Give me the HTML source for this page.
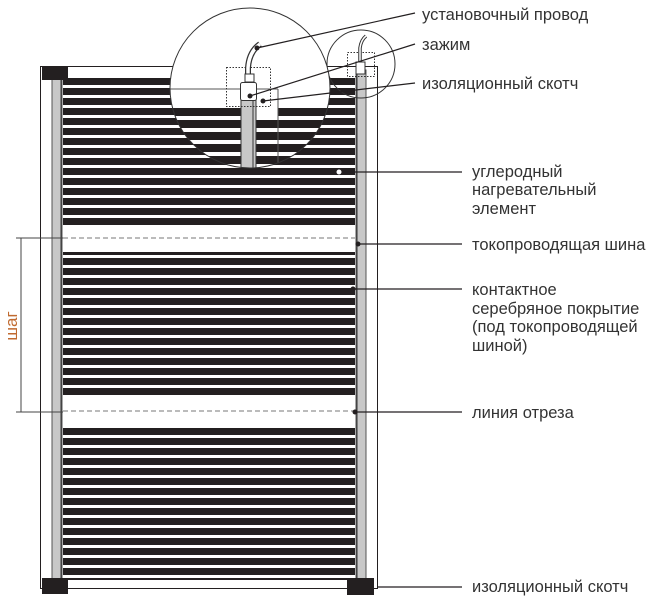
<!DOCTYPE html>
<html><head><meta charset="utf-8"><style>
html,body{margin:0;padding:0;background:#fff;}
svg{display:block;}
text{font-family:"Liberation Sans",sans-serif;font-size:16.5px;fill:#333;}
</style></head><body>
<svg width="657" height="605" viewBox="0 0 657 605" xmlns="http://www.w3.org/2000/svg">
<defs>
<pattern id="st" x="0" y="78" width="10" height="10" patternUnits="userSpaceOnUse">
<rect x="0" y="0" width="10" height="7" fill="#231f20"/>
</pattern>
<pattern id="st2" x="0" y="108" width="12" height="12" patternUnits="userSpaceOnUse">
<rect x="0" y="0" width="12" height="8" fill="#231f20"/>
</pattern>
<clipPath id="cc"><circle cx="250" cy="88" r="80"/></clipPath>
</defs>
<rect x="40.5" y="66.5" width="337" height="522" fill="none" stroke="#231f20" stroke-width="1"/>
<rect x="63" y="78" width="292" height="148" fill="url(#st)"/>
<rect x="63" y="252" width="292" height="146" fill="url(#st)"/>
<rect x="63" y="425" width="292" height="155" fill="url(#st)"/>
<rect x="52" y="70" width="10" height="515" fill="#c8c8c8" stroke="#555" stroke-width="1"/>
<rect x="356" y="70" width="10" height="515" fill="#c8c8c8" stroke="#555" stroke-width="1"/>
<line x1="61" y1="70" x2="61" y2="585" stroke="#333"/>
<line x1="357" y1="70" x2="357" y2="585" stroke="#333"/>
<line x1="63" y1="238" x2="355" y2="238" stroke="#777" stroke-dasharray="5,3"/>
<line x1="63" y1="411" x2="355" y2="411" stroke="#777" stroke-dasharray="5,3"/>
<rect x="42" y="66" width="26" height="14" fill="#231f20"/>
<rect x="42" y="578" width="26" height="16" fill="#231f20"/>
<rect x="347" y="578" width="27" height="17" fill="#231f20"/>
<line x1="21" y1="238" x2="21" y2="412" stroke="#444"/>
<line x1="16" y1="238" x2="63" y2="238" stroke="#444"/>
<line x1="16" y1="412" x2="63" y2="412" stroke="#444"/>
<text transform="translate(17,326) rotate(-90)" text-anchor="middle" style="fill:#c06a30;font-size:17px">шаг</text>
<circle cx="361" cy="64" r="34" fill="none" stroke="#333"/>
<rect x="347.5" y="52.5" width="27" height="24" fill="none" stroke="#333" stroke-dasharray="1.5,1.5"/>
<path d="M360 62 L360 48 Q361 40 366 36" fill="none" stroke="#333" stroke-width="3.5"/>
<path d="M360 62 L360 48 Q361 40 366 36" fill="none" stroke="#fff" stroke-width="1.5"/>
<rect x="356" y="62" width="9" height="12" fill="#fff" stroke="#333"/>
<circle cx="250" cy="88" r="80" fill="#fff"/>
<g clip-path="url(#cc)">
<rect x="160" y="108" width="200" height="70" fill="url(#st2)"/>
<rect x="256" y="89" width="22" height="30" fill="#fff"/>
<rect x="160" y="89" width="96" height="18" fill="#fff"/>
<line x1="160" y1="89" x2="278" y2="89" stroke="#555"/>
<line x1="278" y1="89" x2="278" y2="170" stroke="#555"/>
<rect x="241" y="100" width="15" height="70" fill="#c8c8c8" stroke="#333"/>
<line x1="253" y1="100" x2="253" y2="170" stroke="#333"/>
</g>
<circle cx="250" cy="88" r="80" fill="none" stroke="#333"/>
<rect x="226.5" y="67.5" width="44" height="39" fill="none" stroke="#333" stroke-dasharray="1.5,1.5"/>
<path d="M248 82 L248 68 Q249 52 260 44" fill="none" stroke="#333" stroke-width="6"/>
<path d="M248 82 L248 68 Q249 52 260 44" fill="none" stroke="#fff" stroke-width="3.5"/>
<rect x="245" y="74" width="9" height="8" fill="#fff" stroke="#333"/>
<rect x="240.5" y="82.5" width="16" height="18" rx="2" fill="#fff" stroke="#333"/>
<g stroke="#231f20" stroke-width="1.2">
<line x1="257" y1="48" x2="415" y2="13"/>
<line x1="250" y1="96" x2="415" y2="44"/>
<line x1="263" y1="101" x2="415" y2="83"/>
<line x1="339" y1="172" x2="462" y2="172"/>
<line x1="358" y1="244" x2="462" y2="244"/>
<line x1="353" y1="289" x2="462" y2="289"/>
<line x1="355" y1="412" x2="462" y2="412"/>
<line x1="378" y1="587" x2="462" y2="587"/>
</g>
<g fill="#231f20">
<circle cx="257" cy="48" r="2.5"/><circle cx="250" cy="96" r="2.5"/><circle cx="263" cy="101" r="2.5"/>
<circle cx="358" cy="244" r="2.5"/><circle cx="353" cy="289" r="2.5"/><circle cx="355" cy="412" r="2.5"/>
</g>
<circle cx="339" cy="172" r="2.5" fill="#fff"/>
<text x="422" y="20">установочный провод</text>
<text x="422" y="50">зажим</text>
<text x="422" y="89">изоляционный скотч</text>
<text x="472" y="177">углеродный</text>
<text x="472" y="195">нагревательный</text>
<text x="472" y="214">элемент</text>
<text x="472" y="250">токопроводящая шина</text>
<text x="472" y="295">контактное</text>
<text x="472" y="314">серебряное покрытие</text>
<text x="472" y="332">(под токопроводящей</text>
<text x="472" y="351">шиной)</text>
<text x="472" y="418">линия отреза</text>
<text x="472" y="592">изоляционный скотч</text>
</svg>
</body></html>
